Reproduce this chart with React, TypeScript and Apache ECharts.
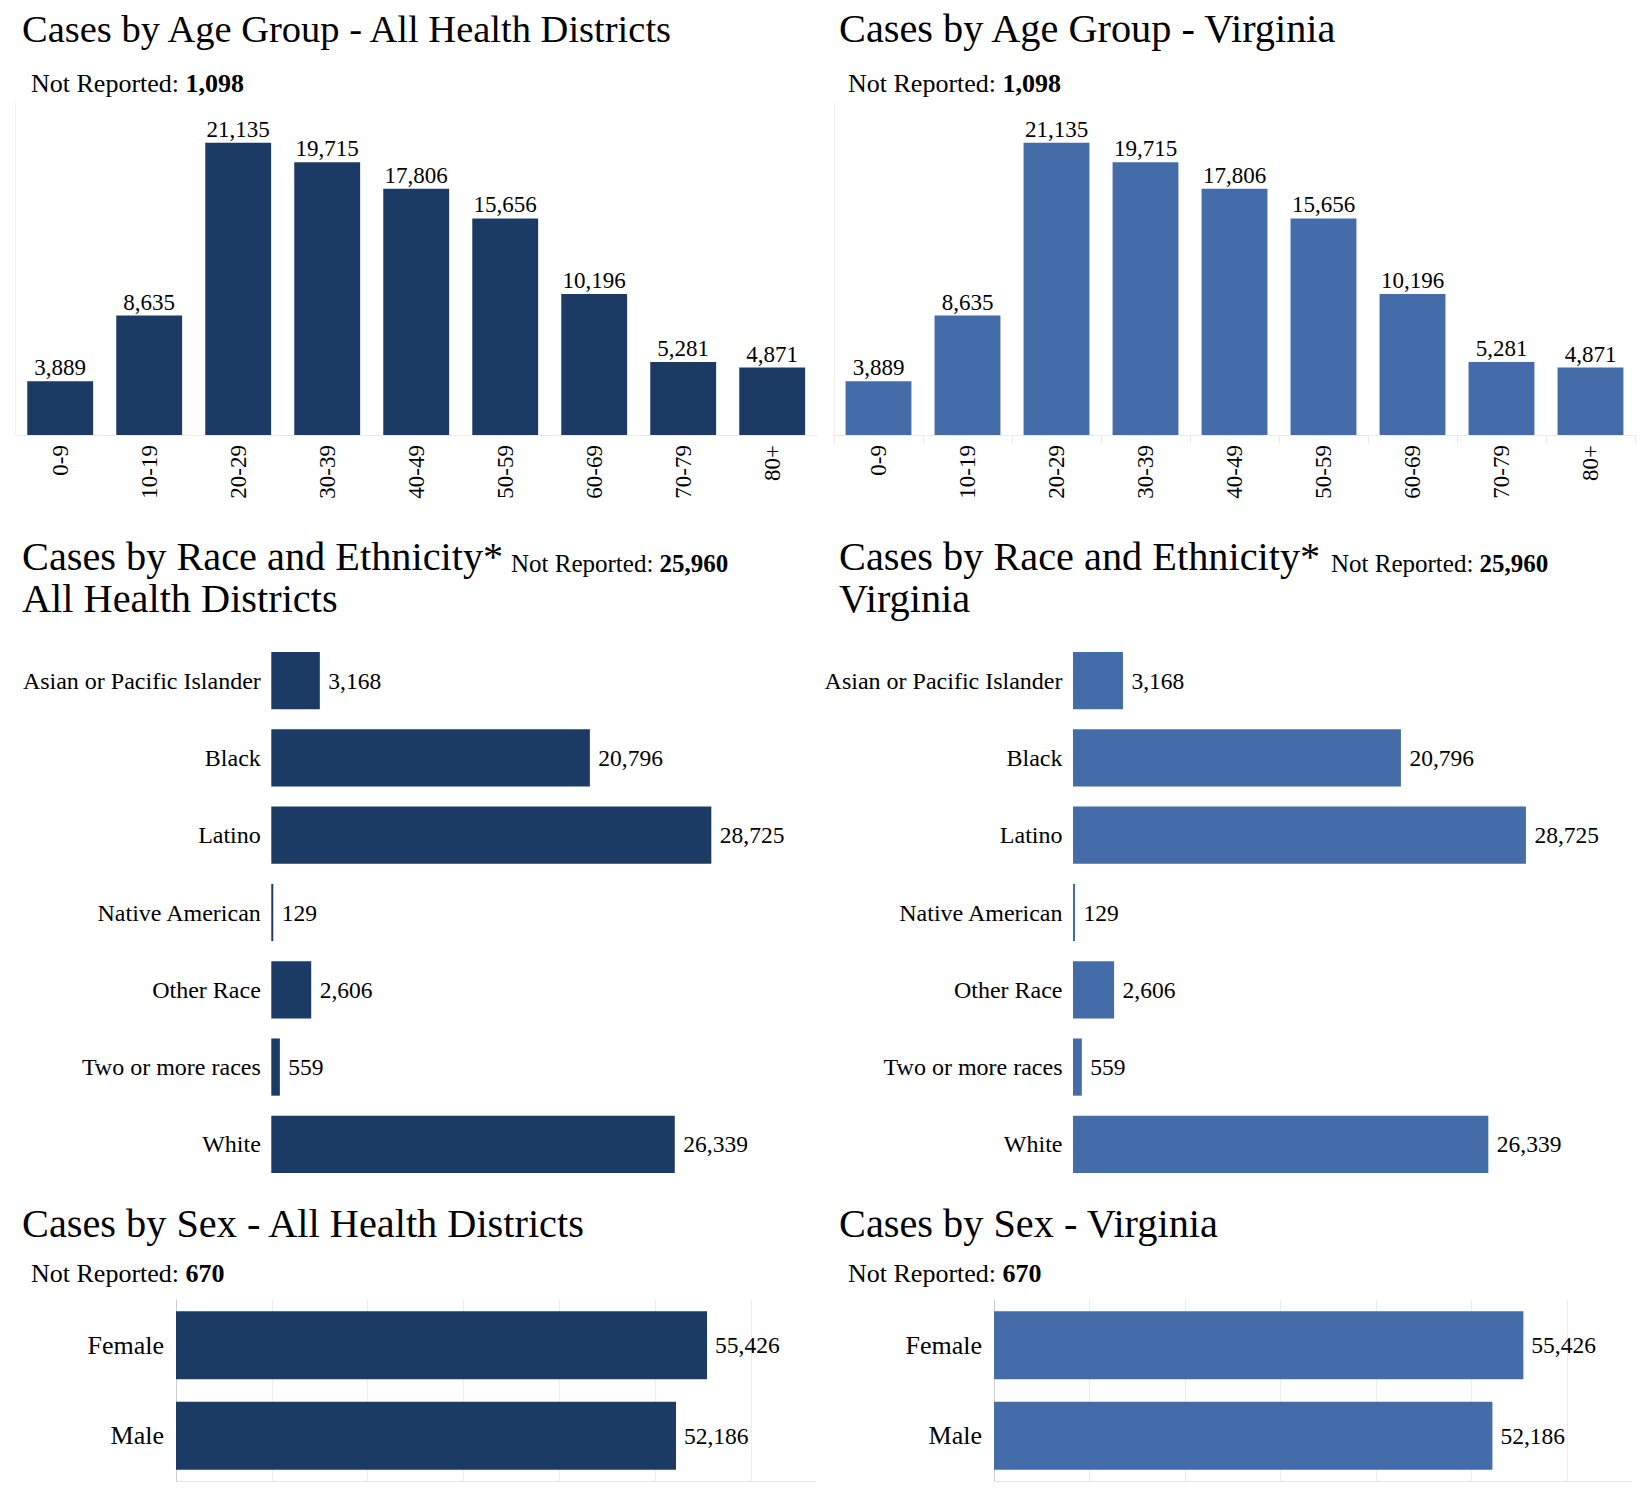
import React, { useEffect, useRef } from "react";
import * as echarts from "echarts";

const regions = ["All Health Districts", "Virginia"];
const ageGroups = ["0-9", "10-19", "20-29", "30-39", "40-49", "50-59", "60-69", "70-79", "80+"];
const ageCases = [3889, 8635, 21135, 19715, 17806, 15656, 10196, 5281, 4871];
const raceGroups = [
  "Asian or Pacific Islander",
  "Black",
  "Latino",
  "Native American",
  "Other Race",
  "Two or more races",
  "White",
];
const raceCases = [3168, 20796, 28725, 129, 2606, 559, 26339];
const sexGroups = ["Female", "Male"];
const sexCases = [55426, 52186];
const notReportedAge = 1098;
const notReportedRace = 25960;
const notReportedSex = 670;
const sexGridTicks = [10000, 20000, 30000, 40000, 50000, 60000];

const BAR_COLORS = ["#1b3a64", "#436ca8"];
const FONT = "'Liberation Serif', 'Times New Roman', Times, serif";

const fmt = (v: number) => v.toLocaleString("en-US");

function buildOption() {
  const grid: any[] = [];
  const xAxis: any[] = [];
  const yAxis: any[] = [];
  const series: any[] = [];
  const graphic: any[] = [];

  const nrText = (x: number, baseline: number, value: number, size: number) => ({
    type: "text",
    x,
    y: baseline - 0.3375 * size,
    style: {
      text: `{a|Not Reported: }{b|${fmt(value)}}`,
      rich: {
        a: { fontSize: size, fontFamily: FONT, fill: "#000", color: "#000", lineHeight: size },
        b: { fontSize: size, fontFamily: FONT, fontWeight: "bold", fill: "#000", color: "#000", lineHeight: size },
      },
      fill: "#000",
      textAlign: "left",
      align: "left",
      textVerticalAlign: "middle",
      verticalAlign: "middle",
    },
  });
  const titleText = (x: number, baseline: number, text: string, size: number) => ({
    type: "text",
    x,
    y: baseline - 0.3375 * size,
    style: {
      text,
      font: `${size}px ${FONT}`,
      fontSize: size,
      fontFamily: FONT,
      fill: "#000",
      textAlign: "left",
      align: "left",
      textVerticalAlign: "middle",
      verticalAlign: "middle",
    },
  });

  const ageLeft = [15.7, 834];
  const ageTitleSize = [38.5, 40.3];
  const titleSize = 40.3;
  const raceLeft = [271.3, 1073];
  const raceWidth = [514.7, 529.8];
  const raceNrX = [511, 1331];
  const sexLeft = [176, 994];
  const sexWidth = [640, 638];

  for (let p = 0; p < 2; p++) {
    const dx = p * 817;
    const color = BAR_COLORS[p];
    const region = regions[p];

    // ---------- Age ----------
    const ai = grid.length;
    grid.push({ left: ageLeft[p], top: 103, width: 801, height: 332, containLabel: false });
    xAxis.push({
      type: "category",
      gridIndex: ai,
      data: ageGroups,
      axisLine: { show: true, lineStyle: { color: "#ebebeb", width: 1 } },
      axisTick: { show: p === 1, length: 8, lineStyle: { color: "#e8e8e8" } },
      axisLabel: {
        rotate: 90,
        margin: 10,
        fontSize: 23,
        fontFamily: FONT,
        color: "#000",
        interval: 0,
      },
    });
    yAxis.push({
      type: "value",
      gridIndex: ai,
      min: 0,
      max: 24000,
      axisLine: { show: true, lineStyle: { color: "#f2f2f2" } },
      axisTick: { show: false },
      axisLabel: { show: false },
      splitLine: { show: false },
    });
    series.push({
      type: "bar",
      xAxisIndex: ai,
      yAxisIndex: ai,
      data: ageCases,
      barCategoryGap: "26%",
      itemStyle: { color },
      label: {
        show: true,
        position: "top",
        distance: 2,
        fontSize: 23,
        fontFamily: FONT,
        color: "#000",
        formatter: (q: any) => fmt(q.value),
      },
    });

    // ---------- Race ----------
    const ri = grid.length;
    grid.push({ left: raceLeft[p], top: 642, width: raceWidth[p], height: 541, containLabel: false });
    xAxis.push({
      type: "value",
      gridIndex: ri,
      min: 0,
      max: 33600,
      axisLine: { show: false },
      axisTick: { show: false },
      axisLabel: { show: false },
      splitLine: { show: false },
    });
    yAxis.push({
      type: "category",
      gridIndex: ri,
      inverse: true,
      data: raceGroups,
      axisLine: { show: false },
      axisTick: { show: false },
      axisLabel: { margin: 10.5, fontSize: 24, fontFamily: FONT, color: "#000", interval: 0 },
    });
    series.push({
      type: "bar",
      xAxisIndex: ri,
      yAxisIndex: ri,
      data: raceCases,
      barCategoryGap: "26%",
      itemStyle: { color },
      label: {
        show: true,
        position: "right",
        distance: 8.5,
        fontSize: 23.5,
        fontFamily: FONT,
        color: "#000",
        formatter: (q: any) => fmt(q.value),
      },
    });

    // ---------- Sex ----------
    const si = grid.length;
    grid.push({ left: sexLeft[p], top: 1300, width: sexWidth[p], height: 181, containLabel: false });
    xAxis.push({
      type: "value",
      gridIndex: si,
      min: 0,
      max: 66800,
      axisLine: { show: true, onZero: false, lineStyle: { color: "#e6e6e6" } },
      axisTick: { show: false },
      axisLabel: { show: false },
      splitLine: { show: false },
    });
    yAxis.push({
      type: "category",
      gridIndex: si,
      inverse: true,
      data: sexGroups,
      axisLine: { show: true, lineStyle: { color: "#c4c4c4", type: "dotted" } },
      axisTick: { show: false },
      axisLabel: { margin: 12, fontSize: 26, fontFamily: FONT, color: "#000", interval: 0 },
    });
    series.push({
      type: "bar",
      xAxisIndex: si,
      yAxisIndex: si,
      data: sexCases,
      barCategoryGap: "25%",
      itemStyle: { color },
      label: {
        show: true,
        position: "right",
        distance: 8,
        fontSize: 23.5,
        fontFamily: FONT,
        color: "#000",
        formatter: (q: any) => fmt(q.value),
      },
      markLine: {
        silent: true,
        z: 1,
        symbol: ["none", "none"],
        label: { show: false },
        lineStyle: { color: "#ececec", type: "solid", width: 1 },
        emphasis: { disabled: true },
        data: sexGridTicks.map((v) => ({ xAxis: v })),
      },
    });

    // ---------- Texts ----------
    graphic.push(titleText(22 + dx, 42, `Cases by Age Group - ${region}`, ageTitleSize[p]));
    graphic.push(nrText(31 + dx, 92, notReportedAge, 26));
    graphic.push(titleText(22 + dx, 570.5, "Cases by Race and Ethnicity*", titleSize));
    graphic.push(titleText(22 + dx, 612.5, region, titleSize));
    graphic.push(nrText(raceNrX[p], 572, notReportedRace, 25));
    graphic.push(titleText(22 + dx, 1237, `Cases by Sex - ${region}`, titleSize));
    graphic.push(nrText(31 + dx, 1282, notReportedSex, 26));
  }

  return {
    animation: false,
    backgroundColor: "#ffffff",
    textStyle: { fontFamily: FONT },
    grid,
    xAxis,
    yAxis,
    series,
    graphic,
  };
}

export default function App() {
  const ref = useRef<HTMLDivElement>(null);
  useEffect(() => {
    if (!ref.current) return;
    const chart = echarts.init(ref.current, undefined, { renderer: "svg" });
    chart.setOption(buildOption() as any);
    return () => chart.dispose();
  }, []);
  return (
    <div
      ref={ref}
      style={{ position: "absolute", left: 0, top: 0, width: 1640, height: 1492, background: "#fff" }}
    />
  );
}
